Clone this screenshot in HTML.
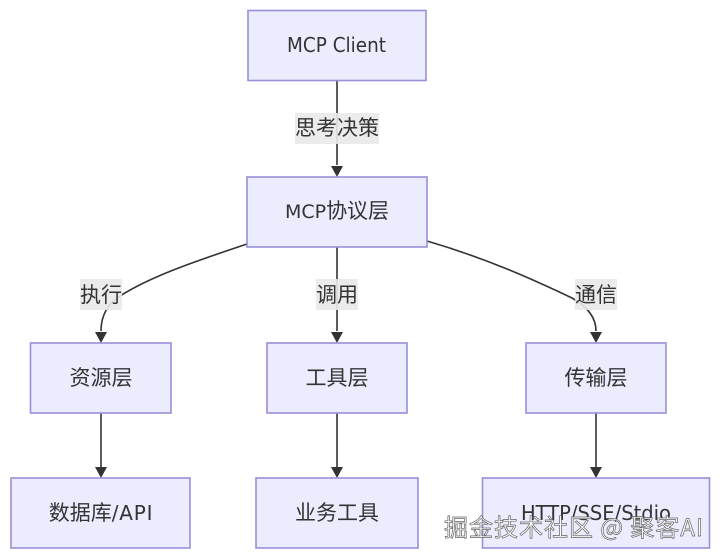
<!DOCTYPE html>
<html>
<head>
<meta charset="utf-8">
<style>
html,body{margin:0;padding:0;background:#fff;width:720px;height:559px;overflow:hidden}
svg{display:block}
text{font-family:"Liberation Sans","Noto Sans CJK SC",sans-serif}
.n{fill:#ececff;stroke:#9a8fd8;stroke-width:1.6}
.e{fill:none;stroke:#333;stroke-width:1.6}
.t{font-size:20px;fill:#333;font-family:"DejaVu Sans","Noto Sans CJK SC",sans-serif}
.c{font-size:21px;fill:#333;text-anchor:middle;font-family:"Noto Sans CJK SC",sans-serif}
.l{fill:#e9e9e9;opacity:.9}
.a{fill:#333}
</style>
</head>
<body>
<svg width="720" height="559" viewBox="0 0 720 559" xmlns="http://www.w3.org/2000/svg">
<rect width="720" height="559" fill="#fff"/>

<path class="e" d="M337 80V165"/>
<path class="e" d="M337 247V331"/>
<path class="e" d="M247 244C190 263 150 277 120 296C106 305 101 318 101 331"/>
<path class="e" d="M427 241C485 258 530 278 572 298C588 307 596 318 596 331"/>
<path class="e" d="M101 413V467"/>
<path class="e" d="M337 413V467"/>
<path class="e" d="M596 413V467"/>

<path class="a" d="M331 166H343L337 177Z"/>
<path class="a" d="M331 332H343L337 343Z"/>
<path class="a" d="M95 332H107L101 343Z"/>
<path class="a" d="M590 332H602L596 343Z"/>
<path class="a" d="M95 467H107L101 478Z"/>
<path class="a" d="M331 467H343L337 478Z"/>
<path class="a" d="M590 467H602L596 478Z"/>

<rect class="n" x="248" y="10.500" width="178" height="70"/>
<rect class="n" x="247" y="177" width="180" height="70"/>
<rect class="n" x="30.500" y="343" width="140.500" height="70"/>
<rect class="n" x="267" y="343" width="140" height="70"/>
<rect class="n" x="526" y="343" width="140" height="70"/>
<rect class="n" x="11" y="478" width="179" height="70"/>
<rect class="n" x="256" y="478" width="162" height="70"/>
<rect class="n" x="482.500" y="478" width="227" height="70"/>

<rect class="l" x="295" y="113" width="84" height="31"/>
<rect class="l" x="80" y="279" width="42" height="31"/>
<rect class="l" x="316" y="279" width="42" height="31"/>
<rect class="l" x="575" y="279" width="42" height="31"/>

<text class="t" x="287" y="52" textLength="99" lengthAdjust="spacingAndGlyphs">MCP Client</text>
<text class="c" x="337" y="218"><tspan font-family="DejaVu Sans" font-size="19">MCP</tspan>协议层</text>
<text class="c" x="101" y="385">资源层</text>
<text class="c" x="337" y="385">工具层</text>
<text class="c" x="596" y="385">传输层</text>
<text class="c" x="101" y="520">数据库<tspan font-family="DejaVu Sans" font-size="20" letter-spacing="0.8">/API</tspan></text>
<text class="c" x="337" y="520">业务工具</text>
<text class="t" x="521" y="520" textLength="150" lengthAdjust="spacingAndGlyphs">HTTP/SSE/Stdio</text>

<text class="c" x="337" y="135">思考决策</text>
<text class="c" x="101" y="302">执行</text>
<text class="c" x="337" y="302">调用</text>
<text class="c" x="596" y="302">通信</text>

<text x="444" y="536" font-size="24" textLength="259" fill="#fff" stroke="#666" stroke-width=".7" style="font-family:'Noto Sans CJK SC',sans-serif">掘金技术社区 @ 聚客AI</text>
</svg>
</body>
</html>
